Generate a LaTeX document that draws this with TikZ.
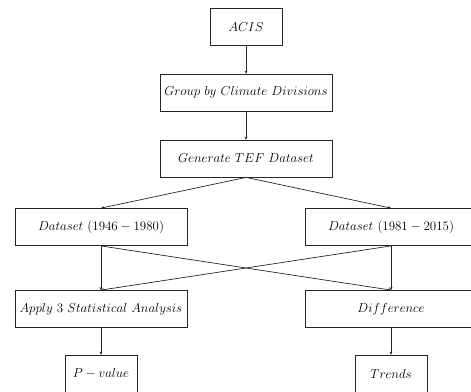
\documentclass[tikz,border=0pt]{standalone}
\usepackage{graphicx}
\usetikzlibrary{arrows.meta}
\newcommand{\boxtxt}[1]{\scalebox{1.08}{$#1$}}
\begin{document}
\begin{tikzpicture}[x=1pt,y=-1pt,
  box/.style={draw=black!85, line width=0.8pt, minimum height=37pt, inner sep=0pt, font=\fontsize{12}{14}\selectfont},
  wide/.style={box, minimum width=172pt},
  narrow/.style={box, minimum width=72pt},
  arr/.style={-{Stealth[length=3pt,width=3pt]}, line width=0.7pt, draw=black!85}]
\useasboundingbox (0,0) rectangle (471,391);
\node[narrow] (acis) at (246,27) {\boxtxt{ACIS}};
\node[wide] (group) at (246,92.5) {\boxtxt{Group\ by\ Climate\ Divisions}};
\node[wide] (gen) at (246,158.5) {\boxtxt{Generate\ TEF\ Dataset}};
\node[wide] (dl) at (101,227) {\boxtxt{Dataset\ (1946-1980)}};
\node[wide] (dr) at (391,227) {\boxtxt{Dataset\ (1981-2015)}};
\node[wide] (apply) at (101,309) {\boxtxt{Apply\ 3\ Statistical\ Analysis}};
\node[wide] (diff) at (391,309) {\boxtxt{Difference}};
\node[narrow] (pv) at (101,373.5) {\boxtxt{P-value}};
\node[narrow] (tr) at (391,373.5) {\boxtxt{Trends}};
\draw[arr] (acis) -- (group);
\draw[arr] (group) -- (gen);
\draw[arr] (gen.south) -- (dl.north);
\draw[arr] (gen.south) -- (dr.north);
\draw[arr] (dl.south) -- (apply.north);
\draw[arr] (dl.south) -- (diff.north);
\draw[arr] (dr.south) -- (diff.north);
\draw[arr] (dr.south) -- (apply.north);
\draw[arr] (apply) -- (pv);
\draw[arr] (diff) -- (tr);
\end{tikzpicture}
\end{document}
